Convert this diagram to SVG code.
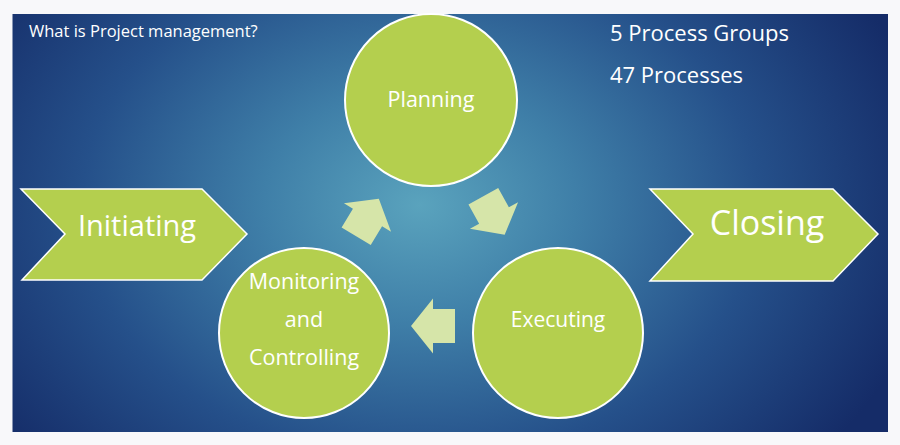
<svg xmlns="http://www.w3.org/2000/svg" width="900" height="445" viewBox="0 0 900 445">
<defs>
<radialGradient id="bg" gradientUnits="userSpaceOnUse" cx="420" cy="205" r="520" gradientTransform="translate(420 205) scale(1 0.75) translate(-420 -205)">
<stop offset="0" stop-color="#5aa3bd"/>
<stop offset="0.3" stop-color="#3f7fa8"/>
<stop offset="0.65" stop-color="#25508a"/>
<stop offset="1" stop-color="#152c68"/>
</radialGradient>
<polygon id="arr" points="-22,-17 0,-17 0,-27.5 22,0 0,27.5 0,17 -22,17"/>
</defs>
<style>
.t{font-family:"Open Sans","Noto Sans","Liberation Sans",sans-serif;fill:#ffffff}
.c{fill:#b4cf4e;stroke:#ffffff;stroke-width:2}
.ch{fill:#b4cf4e;stroke:#ffffff;stroke-width:1.5}
.a{fill:#d6e5a9}
</style>
<rect x="0" y="0" width="900" height="445" fill="#f8f8fa"/>
<rect x="12.5" y="14" width="875.5" height="418" fill="url(#bg)"/>
<text class="t" x="29" y="37" font-size="16.5">What is Project management?</text>
<text class="t" x="610" y="41" font-size="22">5 Process Groups</text>
<text class="t" x="610" y="83" font-size="22">47 Processes</text>
<g id="initiating">
<polygon class="ch" points="21,189 202,189 247,234 202,280 22,280 65,234"/>
<text class="t" x="137" y="236" font-size="29" text-anchor="middle">Initiating</text>
</g>
<g id="closing">
<polygon class="ch" points="650,189 833,189 878,234 833,281 650,281 693,234"/>
<text class="t" x="767" y="235" font-size="34" text-anchor="middle">Closing</text>
</g>
<g id="planning">
<circle class="c" cx="431" cy="100" r="86"/>
<text class="t" x="431" y="107" font-size="21.5" text-anchor="middle">Planning</text>
</g>
<g id="executing">
<circle class="c" cx="558" cy="333" r="85"/>
<text class="t" x="558" y="327" font-size="21" text-anchor="middle">Executing</text>
</g>
<g id="monitoring">
<circle class="c" cx="304" cy="333" r="85"/>
<text class="t" x="304" y="289" font-size="21.5" text-anchor="middle">Monitoring</text>
<text class="t" x="304" y="327" font-size="21.5" text-anchor="middle">and</text>
<text class="t" x="304" y="365" font-size="21.5" text-anchor="middle">Controlling</text>
</g>
<g id="connectors">
<use href="#arr" class="a" transform="translate(367.5 217.5) rotate(-59)"/>
<use href="#arr" class="a" transform="translate(494 215.5) rotate(61)"/>
<use href="#arr" class="a" transform="translate(433 326) rotate(180)"/>
</g>
</svg>
